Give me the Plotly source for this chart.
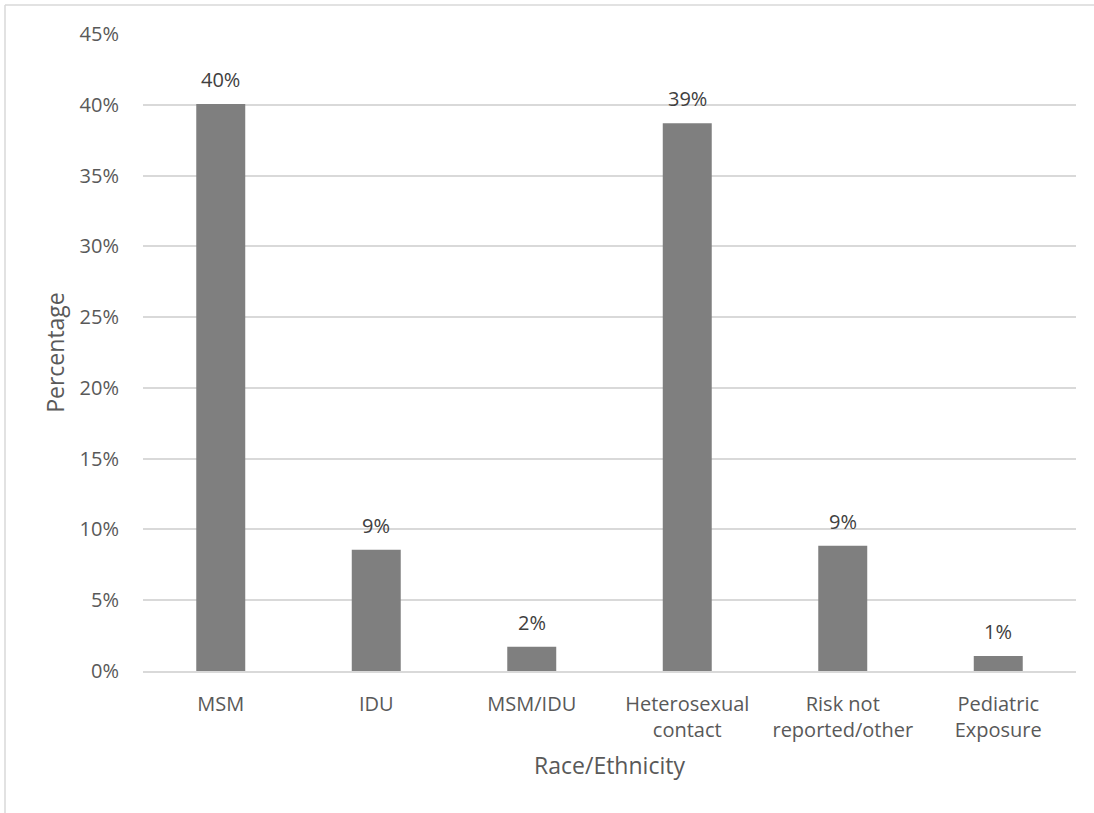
import plotly.graph_objects as go

categories = ["MSM", "IDU", "MSM/IDU", "Heterosexual<br>contact",
              "Risk not<br>reported/other", "Pediatric<br>Exposure"]
values = [0.4006, 0.0856, 0.0172, 0.387, 0.0885, 0.0106]
labels = ["40%", "9%", "2%", "39%", "9%", "1%"]
y_ticks = [0, 0.05, 0.10, 0.15, 0.20, 0.25, 0.30, 0.35, 0.40, 0.45]

FONT = "Open Sans, Noto Sans, sans-serif"
W, H = 1094, 813
L, R, T, B = 143, 18, 34, 142
pw, ph = W - L - R, H - T - B

fig = go.Figure(go.Bar(
    x=categories, y=values, marker=dict(color="#7f7f7f", line=dict(width=0)),
    hoverinfo="skip"))

for c, v, t in zip(categories, values, labels):
    fig.add_annotation(x=c, y=v, text=t, showarrow=False, yanchor="bottom",
                       yshift=9, font=dict(family=FONT, size=20, color="#404040"))

# outer chart frame (partially visible)
x0 = (5 - L) / pw
y0 = 1 + (T - 5) / ph
fig.add_shape(type="line", xref="paper", yref="paper", x0=x0, x1=x0, y0=y0, y1=-0.5,
              line=dict(color="#d9d9d9", width=1.5))
fig.add_shape(type="line", xref="paper", yref="paper", x0=x0, x1=1.2, y0=y0, y1=y0,
              line=dict(color="#d9d9d9", width=1.5))

fig.update_layout(
    width=W, height=H, margin=dict(l=L, r=R, t=T, b=B),
    paper_bgcolor="white", plot_bgcolor="white",
    bargap=0.685, showlegend=False,
    font=dict(family=FONT, size=20, color="#595959"),
    xaxis=dict(showline=True, linecolor="#d9d9d9", linewidth=1.5, ticks="",
               tickfont=dict(size=20, color="#595959"), ticklabelstandoff=14,
               title=dict(text="Race/Ethnicity", font=dict(size=23, color="#595959"), standoff=16),
               fixedrange=True),
    yaxis=dict(range=[0, 0.45], tickvals=y_ticks, tickformat=".0%",
               showgrid=True, gridcolor="#d9d9d9", gridwidth=1.5, zeroline=False,
               showline=False, ticks="", ticklabelstandoff=23,
               tickfont=dict(size=20, color="#595959"),
               title=dict(text="Percentage", font=dict(size=23, color="#595959"), standoff=8),
               fixedrange=True),
)

fig.write_html("out.html", config={"displayModeBar": False},
               post_script="document.body.style.margin='0';")
